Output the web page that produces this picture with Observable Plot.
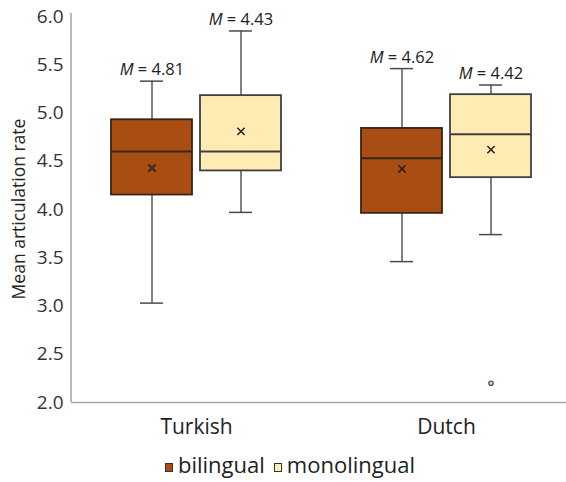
<!DOCTYPE html>
<html>
<head>
<meta charset="utf-8">
<script src="https://cdn.jsdelivr.net/npm/d3@7"></script>
<script src="https://cdn.jsdelivr.net/npm/@observablehq/plot@0.6"></script>
<style>
  body { margin: 0; background: #fff; font-family: "Open Sans", sans-serif; }
  #chart { width: 566px; }
  #chart svg { display: block; }
  .legend { height: 36px; line-height: 36px; padding-left: 165px; font-size: 22px; color: #222; white-space: nowrap; }
  .legend .item { margin-right: 9px; }
  .legend .sw { display: inline-block; width: 6px; height: 7px; border: 1px solid #333; margin-right: 5px; vertical-align: 1px; }
</style>
</head>
<body>
<div id="chart"></div>
<script>
// Groups on the x axis and the two speaker series within each group
const groups = ["Turkish", "Dutch"];
const series = ["bilingual", "monolingual"];

// One entry per box, in order: Turkish bilingual, Turkish monolingual, Dutch bilingual, Dutch monolingual
const boxGroup = ["Turkish", "Turkish", "Dutch", "Dutch"];
const boxSeries = ["bilingual", "monolingual", "bilingual", "monolingual"];
const whiskerLow = [3.03, 3.97, 3.46, 3.74];
const quartile1 = [4.15, 4.40, 3.96, 4.33];
const median = [4.60, 4.60, 4.53, 4.78];
const quartile3 = [4.93, 5.18, 4.84, 5.19];
const whiskerHigh = [5.33, 5.85, 5.46, 5.29];
const means = [4.43, 4.81, 4.42, 4.62];
// Annotation printed above each box
const meanLabels = ["4.81", "4.43", "4.62", "4.42"];

// Outlying points
const outlierGroup = ["Dutch"];
const outlierSeries = ["monolingual"];
const outlierValue = [2.20];

// y axis ticks
const yTicks = [2.0, 2.5, 3.0, 3.5, 4.0, 4.5, 5.0, 5.5, 6.0];
const yTitle = "Mean articulation rate";

const fills = { bilingual: "#a94e12", monolingual: "#ffecb5" };
const edges = { bilingual: "#3a2416", monolingual: "#404040" };
const whiskerColor = "#4a4a4a";

const boxes = boxGroup.map((g, i) => ({
  group: g, series: boxSeries[i],
  lo: whiskerLow[i], q1: quartile1[i], med: median[i], q3: quartile3[i], hi: whiskerHigh[i],
  mean: means[i], label: meanLabels[i]
}));
const outliers = outlierGroup.map((g, i) => ({ group: g, series: outlierSeries[i], value: outlierValue[i] }));

const marginLeft = 71;
const common = { fx: "group", x: "series" };

const boxMarks = series.flatMap(s => {
  const data = boxes.filter(d => d.series === s);
  return [
    Plot.barY(data, { ...common, y1: "q1", y2: "q3", fill: fills[s], stroke: edges[s], strokeWidth: 1.8 }),
    Plot.tickY(data, { ...common, y: "med", stroke: edges[s], strokeWidth: 2 })
  ];
});

const chart = Plot.plot({
  width: 566,
  height: 446,
  marginTop: 16,
  marginBottom: 44,
  marginLeft,
  marginRight: 0,
  style: { fontFamily: "'Open Sans', sans-serif", background: "#fff", color: "#222", overflow: "visible" },
  fx: { domain: groups, range: [marginLeft, 571], padding: 0, label: null },
  x: { domain: series, paddingInner: 0.09, paddingOuter: 0.44, axis: null },
  y: { domain: [2, 6] },
  marks: [
    Plot.ruleY([2], { stroke: "#a8a8a8", strokeWidth: 1.6 }),
    // whiskers and caps
    Plot.ruleX(boxes, { ...common, y1: "lo", y2: "q1", stroke: whiskerColor, strokeWidth: 1.4 }),
    Plot.ruleX(boxes, { ...common, y1: "q3", y2: "hi", stroke: whiskerColor, strokeWidth: 1.4 }),
    Plot.tickY(boxes, { ...common, y: "lo", insetLeft: 29, insetRight: 29, stroke: whiskerColor, strokeWidth: 1.5 }),
    Plot.tickY(boxes, { ...common, y: "hi", insetLeft: 29, insetRight: 29, stroke: whiskerColor, strokeWidth: 1.5 }),
    // boxes and medians
    ...boxMarks,
    // means
    Plot.dot(boxes, { ...common, y: "mean", symbol: "times", r: 3.4, stroke: "#222", strokeWidth: 1.5 }),
    // outliers
    Plot.dot(outliers, { ...common, y: "value", r: 2.2, stroke: "#444", fill: "#e6dcc0", strokeWidth: 1.2 }),
    // mean annotations
    Plot.text(boxes, { ...common, y: "hi", text: d => "M = " + d.label, lineAnchor: "bottom", dy: -6, fontSize: 16.5, fill: "#222" }),
    Plot.axisY({ ticks: yTicks, tickFormat: d3.format(".1f"), tickSize: 0, tickPadding: 8, fontSize: 19, label: null, fill: "#333" }),
    Plot.axisFx({ anchor: "bottom", tickSize: 0, tickPadding: 17, fontSize: 21, label: null, fill: "#222" })
  ]
});

const root = d3.select(chart);
const y = chart.scale("y");

// left axis line
root.append("line")
  .attr("x1", marginLeft).attr("x2", marginLeft)
  .attr("y1", y.apply(6) - 3).attr("y2", y.apply(2))
  .attr("stroke", "#a8a8a8").attr("stroke-width", 1.6);

// y axis title
root.append("text")
  .attr("transform", `translate(18,${y.apply(4)}) rotate(-90)`)
  .attr("text-anchor", "middle")
  .attr("dominant-baseline", "central")
  .attr("font-size", 17.5)
  .attr("fill", "#222")
  .text(yTitle);

// italic M in the mean annotations
root.selectAll('g[aria-label="text"] text').each(function () {
  const t = this.textContent;
  if (t.startsWith("M ")) {
    const el = d3.select(this);
    this.textContent = "";
    el.append("tspan").attr("font-style", "italic").text("M");
    el.append("tspan").text(t.slice(1));
  }
});

const container = document.getElementById("chart");
container.appendChild(chart);

// legend
const legend = document.createElement("div");
legend.className = "legend";
series.forEach(s => {
  const item = document.createElement("span");
  item.className = "item";
  const sw = document.createElement("span");
  sw.className = "sw";
  sw.style.background = fills[s];
  item.appendChild(sw);
  item.appendChild(document.createTextNode(s));
  legend.appendChild(item);
});
container.appendChild(legend);
</script>
</body>
</html>
